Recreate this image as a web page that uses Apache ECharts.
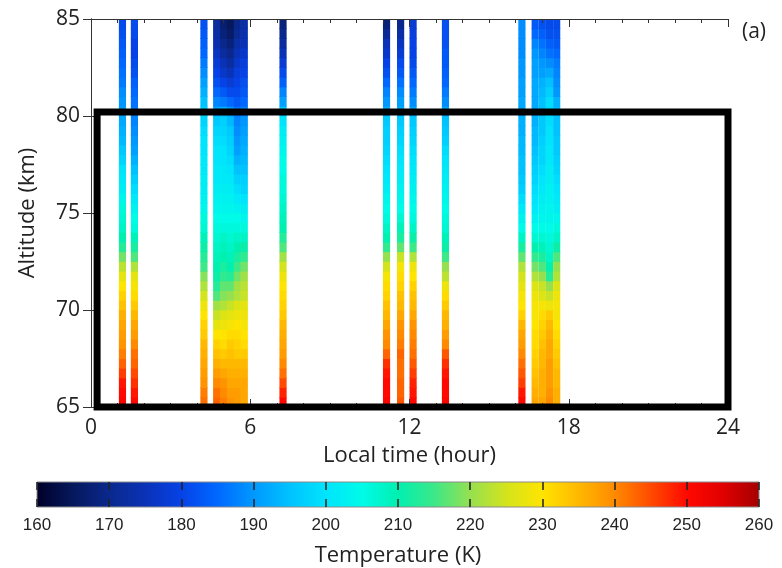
<!DOCTYPE html>
<html>
<head>
<meta charset="utf-8">
<script src="https://cdn.jsdelivr.net/npm/echarts@6/dist/echarts.min.js"></script>
<style>
  html, body { margin: 0; padding: 0; background: #ffffff; }
  #chart { width: 782px; height: 568px; }
</style>
</head>
<body>
<div id="chart"></div>
<script>
// Lower edge of each 0.5 km altitude bin (km)
const altitudeBins = [65, 65.5, 66, 66.5, 67, 67.5, 68, 68.5, 69, 69.5,
  70, 70.5, 71, 71.5, 72, 72.5, 73, 73.5, 74, 74.5,
  75, 75.5, 76, 76.5, 77, 77.5, 78, 78.5, 79, 79.5,
  80, 80.5, 81, 81.5, 82, 82.5, 83, 83.5, 84, 84.5];
const binHeight = 0.5;

// Start time (local hour) of each temperature profile
const profileTimes = [1.05, 1.5, 4.12, 4.6, 4.86, 5.12, 5.38, 5.64, 7.1,
  11.0, 11.53, 12.0, 13.22, 16.1, 16.6, 16.87, 17.14, 17.41];
const profileDuration = 0.27;

// Temperature profiles (K), from 65 km upward
const temp0105 = [251, 250, 249, 246, 243, 241, 239, 238, 237, 236, 234, 232, 230, 227, 223, 218, 213, 210, 208, 207,
  206, 204, 202, 201, 200, 198, 196, 194, 193, 192, 191, 190, 189, 187, 186, 185, 184, 183, 182, 181];
const temp0150 = [250, 249, 247, 245, 243, 242, 240, 238, 237, 235, 233, 231, 229, 227, 222, 216, 212, 209, 206, 205,
  203, 201, 199, 197, 195, 193, 191, 190, 189, 188, 187, 186, 185, 184, 182, 181, 180, 180, 181, 181];
const temp0412 = [242, 241, 239, 238, 237, 236, 235, 233, 232, 230, 228, 225, 222, 219, 215, 213, 211, 209, 207, 206,
  204, 203, 202, 202, 201, 201, 200, 200, 199, 198, 197, 195, 193, 191, 189, 187, 185, 184, 183, 182];
const temp0460 = [243, 242, 240, 238, 236, 234, 232, 230, 227, 224, 221, 216, 213, 211, 210, 209, 208, 207, 206, 205,
  204, 203, 202, 201, 201, 200, 200, 199, 198, 196, 192, 188, 185, 182, 180, 178, 176, 174, 173, 172];
const temp0486 = [241, 240, 239, 237, 235, 233, 231, 230, 228, 226, 222, 219, 217, 214, 212, 210, 209, 208, 206, 205,
  204, 203, 202, 201, 201, 200, 200, 199, 198, 197, 193, 187, 183, 180, 177, 175, 172, 170, 168, 167];
const temp0512 = [239, 238, 237, 236, 235, 234, 233, 231, 229, 227, 224, 220, 217, 213, 210, 209, 208, 207, 206, 205,
  204, 203, 202, 201, 200, 199, 198, 197, 196, 194, 190, 185, 181, 178, 175, 172, 170, 168, 166, 165];
const temp0538 = [238, 238, 237, 236, 235, 233, 232, 231, 230, 228, 226, 222, 221, 218, 215, 212, 210, 208, 206, 205,
  203, 201, 199, 197, 195, 193, 191, 190, 189, 188, 186, 183, 181, 180, 179, 177, 175, 173, 171, 170];
const temp0564 = [237, 237, 237, 236, 235, 233, 231, 230, 229, 228, 227, 224, 223, 221, 218, 214, 211, 208, 206, 204,
  202, 200, 198, 197, 195, 194, 193, 192, 191, 190, 188, 185, 183, 182, 180, 179, 177, 175, 174, 173];
const temp0710 = [250, 248, 245, 242, 240, 238, 237, 236, 235, 233, 232, 231, 230, 228, 225, 221, 216, 213, 210, 209,
  208, 207, 206, 206, 205, 205, 204, 203, 202, 200, 196, 191, 188, 184, 181, 178, 175, 172, 170, 168];
const temp1100 = [251, 250, 250, 249, 247, 243, 240, 239, 237, 235, 234, 232, 231, 229, 225, 220, 214, 210, 208, 206,
  205, 204, 202, 201, 200, 199, 198, 197, 197, 196, 193, 190, 188, 185, 182, 180, 177, 175, 171, 168];
const temp1153 = [244, 243, 243, 242, 242, 243, 241, 240, 239, 237, 235, 234, 232, 231, 229, 224, 217, 212, 209, 207,
  205, 204, 203, 202, 201, 200, 199, 198, 197, 196, 193, 191, 189, 186, 183, 181, 178, 176, 173, 170];
const temp1200 = [250, 249, 248, 246, 244, 242, 241, 240, 239, 237, 235, 234, 232, 230, 228, 222, 215, 211, 208, 206,
  205, 204, 203, 202, 201, 200, 199, 198, 197, 196, 192, 189, 187, 185, 183, 181, 180, 180, 179, 178];
const temp1322 = [251, 250, 250, 249, 247, 244, 240, 238, 236, 235, 233, 231, 228, 223, 220, 215, 211, 209, 207, 206,
  205, 204, 203, 202, 201, 200, 199, 197, 196, 195, 192, 189, 187, 185, 184, 183, 183, 182, 182, 182];
const temp1610 = [250, 249, 246, 244, 242, 240, 238, 237, 235, 232, 230, 229, 227, 225, 222, 217, 212, 208, 205, 203,
  201, 199, 197, 196, 195, 195, 194, 194, 193, 193, 192, 192, 191, 191, 190, 190, 189, 189, 189, 189];
const temp1660 = [237, 236, 235, 234, 233, 232, 231, 231, 230, 229, 229, 228, 226, 222, 218, 214, 210, 207, 205, 203,
  201, 200, 199, 198, 197, 196, 195, 194, 194, 193, 192, 192, 192, 192, 191, 191, 190, 188, 185, 183];
const temp1687 = [237, 236, 236, 236, 235, 235, 234, 233, 232, 231, 229, 226, 224, 220, 216, 212, 209, 207, 205, 204,
  203, 202, 201, 200, 199, 198, 198, 197, 196, 196, 195, 195, 194, 193, 191, 190, 188, 186, 184, 182];
const temp1714 = [240, 239, 238, 238, 238, 237, 237, 236, 235, 233, 228, 224, 220, 213, 210, 208, 207, 206, 205, 204,
  204, 203, 203, 202, 202, 201, 201, 200, 200, 199, 199, 199, 197, 195, 192, 189, 186, 184, 182, 181];
const temp1741 = [236, 236, 235, 235, 234, 233, 232, 231, 230, 229, 229, 228, 226, 222, 220, 216, 211, 208, 206, 204,
  202, 201, 200, 199, 198, 197, 196, 196, 195, 195, 194, 193, 190, 189, 188, 187, 185, 183, 182, 181];

const profiles = [temp0105, temp0150, temp0412, temp0460, temp0486, temp0512, temp0538, temp0564, temp0710,
  temp1100, temp1153, temp1200, temp1322, temp1610, temp1660, temp1687, temp1714, temp1741];

// Axis ticks
const timeTicks = [0, 6, 12, 18, 24];
const altitudeTicks = [65, 70, 75, 80, 85];
const temperatureTicks = [160, 170, 180, 190, 200, 210, 220, 230, 240, 250, 260];

// Highlighted region (local hour, km)
const boxTimes = [0.23, 24];
const boxAltitudes = [65, 80.2];

// Colour scale, one colour every 5 K from 160 K to 260 K
const colorScale = ['#000028', '#06185c', '#0a288c', '#0a32b6', '#0642e6', '#0068ff', '#0098ff', '#00c2ff',
  '#00e4fc', '#00fbe8', '#00f0b0', '#3ce888', '#96e050', '#d4e41c', '#ffe400', '#ffb800', '#ff8a00',
  '#ff4a00', '#ff0800', '#e00000', '#a40000'];

// Build heat cells: [start hour, bin lower edge, temperature]
const cells = [];
profiles.forEach(function (profile, i) {
  profile.forEach(function (t, j) {
    cells.push([profileTimes[i], altitudeBins[j], t]);
  });
});

const LABEL_FONT = 'Open Sans';
const axisColor = '#333333';

const chart = echarts.init(document.getElementById('chart'), null, { renderer: 'canvas' });

const gradientStops = colorScale.map(function (c, i) {
  return { offset: i / (colorScale.length - 1), color: c };
});

chart.setOption({
  animation: false,
  backgroundColor: '#ffffff',
  title: {
    text: '(a)',
    left: 737,
    top: 17,
    textStyle: { fontFamily: LABEL_FONT, fontSize: 21, fontWeight: 'normal', color: '#222' }
  },
  grid: [
    { left: 91, right: 54, top: 19, bottom: 161 },
    { left: 37, right: 23, top: 482, height: 25 }
  ],
  visualMap: {
    type: 'continuous',
    show: false,
    seriesIndex: 0,
    dimension: 2,
    min: temperatureTicks[0],
    max: temperatureTicks[temperatureTicks.length - 1],
    inRange: { color: colorScale }
  },
  xAxis: [
    {
      type: 'value', gridIndex: 0, position: 'bottom', z: 10,
      min: timeTicks[0], max: timeTicks[timeTicks.length - 1], interval: timeTicks[1] - timeTicks[0],
      axisLine: { show: true, lineStyle: { color: axisColor, width: 1 } },
      axisTick: { show: true, inside: true, length: 8, lineStyle: { color: axisColor } },
      minorTick: { show: true, splitNumber: 6, length: 4, lineStyle: { color: axisColor } },
      splitLine: { show: false },
      axisLabel: { fontFamily: LABEL_FONT, fontSize: 21, color: '#222', margin: 11 },
      name: 'Local time (hour)', nameLocation: 'middle', nameGap: 38,
      nameTextStyle: { fontFamily: LABEL_FONT, fontSize: 22, color: '#222' }
    },
    {
      type: 'value', gridIndex: 0, position: 'top', z: 10,
      min: timeTicks[0], max: timeTicks[timeTicks.length - 1], interval: timeTicks[1] - timeTicks[0],
      axisLine: { show: true, lineStyle: { color: axisColor, width: 1 } },
      axisTick: { show: true, inside: true, length: 8, lineStyle: { color: axisColor } },
      minorTick: { show: true, splitNumber: 6, length: 4, lineStyle: { color: axisColor } },
      splitLine: { show: false },
      axisLabel: { show: false }
    },
    {
      type: 'value', gridIndex: 1, position: 'bottom', z: 10,
      min: temperatureTicks[0], max: temperatureTicks[temperatureTicks.length - 1],
      interval: temperatureTicks[1] - temperatureTicks[0],
      axisLine: { show: false },
      axisTick: { show: true, inside: true, length: 8, lineStyle: { color: '#222', width: 1.5 } },
      splitLine: { show: false },
      axisLabel: { fontFamily: 'Liberation Sans', fontSize: 17, color: '#222', margin: 10 },
      name: 'Temperature (K)', nameLocation: 'middle', nameGap: 38,
      nameTextStyle: { fontFamily: LABEL_FONT, fontSize: 22, color: '#222' }
    },
    {
      type: 'value', gridIndex: 1, position: 'top', z: 10,
      min: temperatureTicks[0], max: temperatureTicks[temperatureTicks.length - 1],
      interval: temperatureTicks[1] - temperatureTicks[0],
      axisLine: { show: false },
      axisTick: { show: true, inside: true, length: 8, lineStyle: { color: '#222', width: 1.5 } },
      splitLine: { show: false },
      axisLabel: { show: false }
    }
  ],
  yAxis: [
    {
      type: 'value', gridIndex: 0, position: 'left', z: 10,
      min: altitudeTicks[0], max: altitudeTicks[altitudeTicks.length - 1],
      interval: altitudeTicks[1] - altitudeTicks[0],
      axisLine: { show: true, lineStyle: { color: axisColor, width: 1 } },
      axisTick: { show: true, inside: true, length: 8, lineStyle: { color: axisColor } },
      splitLine: { show: false },
      axisLabel: { fontFamily: LABEL_FONT, fontSize: 21, color: '#222', margin: 11 },
      name: 'Altitude (km)', nameLocation: 'middle', nameGap: 52,
      nameTextStyle: { fontFamily: LABEL_FONT, fontSize: 22, color: '#222' }
    },
    {
      type: 'value', gridIndex: 0, position: 'right', z: 10,
      min: altitudeTicks[0], max: altitudeTicks[altitudeTicks.length - 1],
      interval: altitudeTicks[1] - altitudeTicks[0],
      axisLine: { show: true, lineStyle: { color: axisColor, width: 1 } },
      axisTick: { show: true, inside: true, length: 8, lineStyle: { color: axisColor } },
      splitLine: { show: false },
      axisLabel: { show: false }
    },
    {
      type: 'value', gridIndex: 1, min: 0, max: 1, show: false
    }
  ],
  series: [
    {
      type: 'custom',
      name: 'Temperature',
      xAxisIndex: 0,
      yAxisIndex: 0,
      data: cells,
      encode: { x: 0, y: 1 },
      clip: true,
      renderItem: function (params, api) {
        const t = api.value(0);
        const a = api.value(1);
        const topLeft = api.coord([t, a + binHeight]);
        const bottomRight = api.coord([t + profileDuration, a]);
        return {
          type: 'rect',
          shape: {
            x: topLeft[0],
            y: topLeft[1] - 0.4,
            width: bottomRight[0] - topLeft[0],
            height: bottomRight[1] - topLeft[1] + 0.8
          },
          style: { fill: api.visual('color') }
        };
      }
    },
    {
      type: 'line',
      name: 'Highlight',
      xAxisIndex: 0,
      yAxisIndex: 0,
      z: 20,
      clip: false,
      symbol: 'none',
      silent: true,
      lineStyle: { color: '#000000', width: 7, join: 'miter' },
      data: [
        [(boxTimes[0] + boxTimes[1]) / 2, boxAltitudes[1]],
        [boxTimes[1], boxAltitudes[1]],
        [boxTimes[1], boxAltitudes[0]],
        [boxTimes[0], boxAltitudes[0]],
        [boxTimes[0], boxAltitudes[1]],
        [(boxTimes[0] + boxTimes[1]) / 2, boxAltitudes[1]]
      ]
    },
    {
      type: 'custom',
      name: 'Colour bar',
      xAxisIndex: 2,
      yAxisIndex: 2,
      z: 1,
      silent: true,
      data: [[temperatureTicks[0], temperatureTicks[temperatureTicks.length - 1]]],
      encode: { x: [0, 1] },
      renderItem: function (params, api) {
        const p0 = api.coord([api.value(0), 1]);
        const p1 = api.coord([api.value(1), 0]);
        return {
          type: 'rect',
          shape: { x: p0[0], y: p0[1], width: p1[0] - p0[0], height: p1[1] - p0[1] },
          style: {
            fill: new echarts.graphic.LinearGradient(0, 0, 1, 0, gradientStops),
            stroke: '#8a8a8a',
            lineWidth: 1
          }
        };
      }
    }
  ]
});
</script>
</body>
</html>
